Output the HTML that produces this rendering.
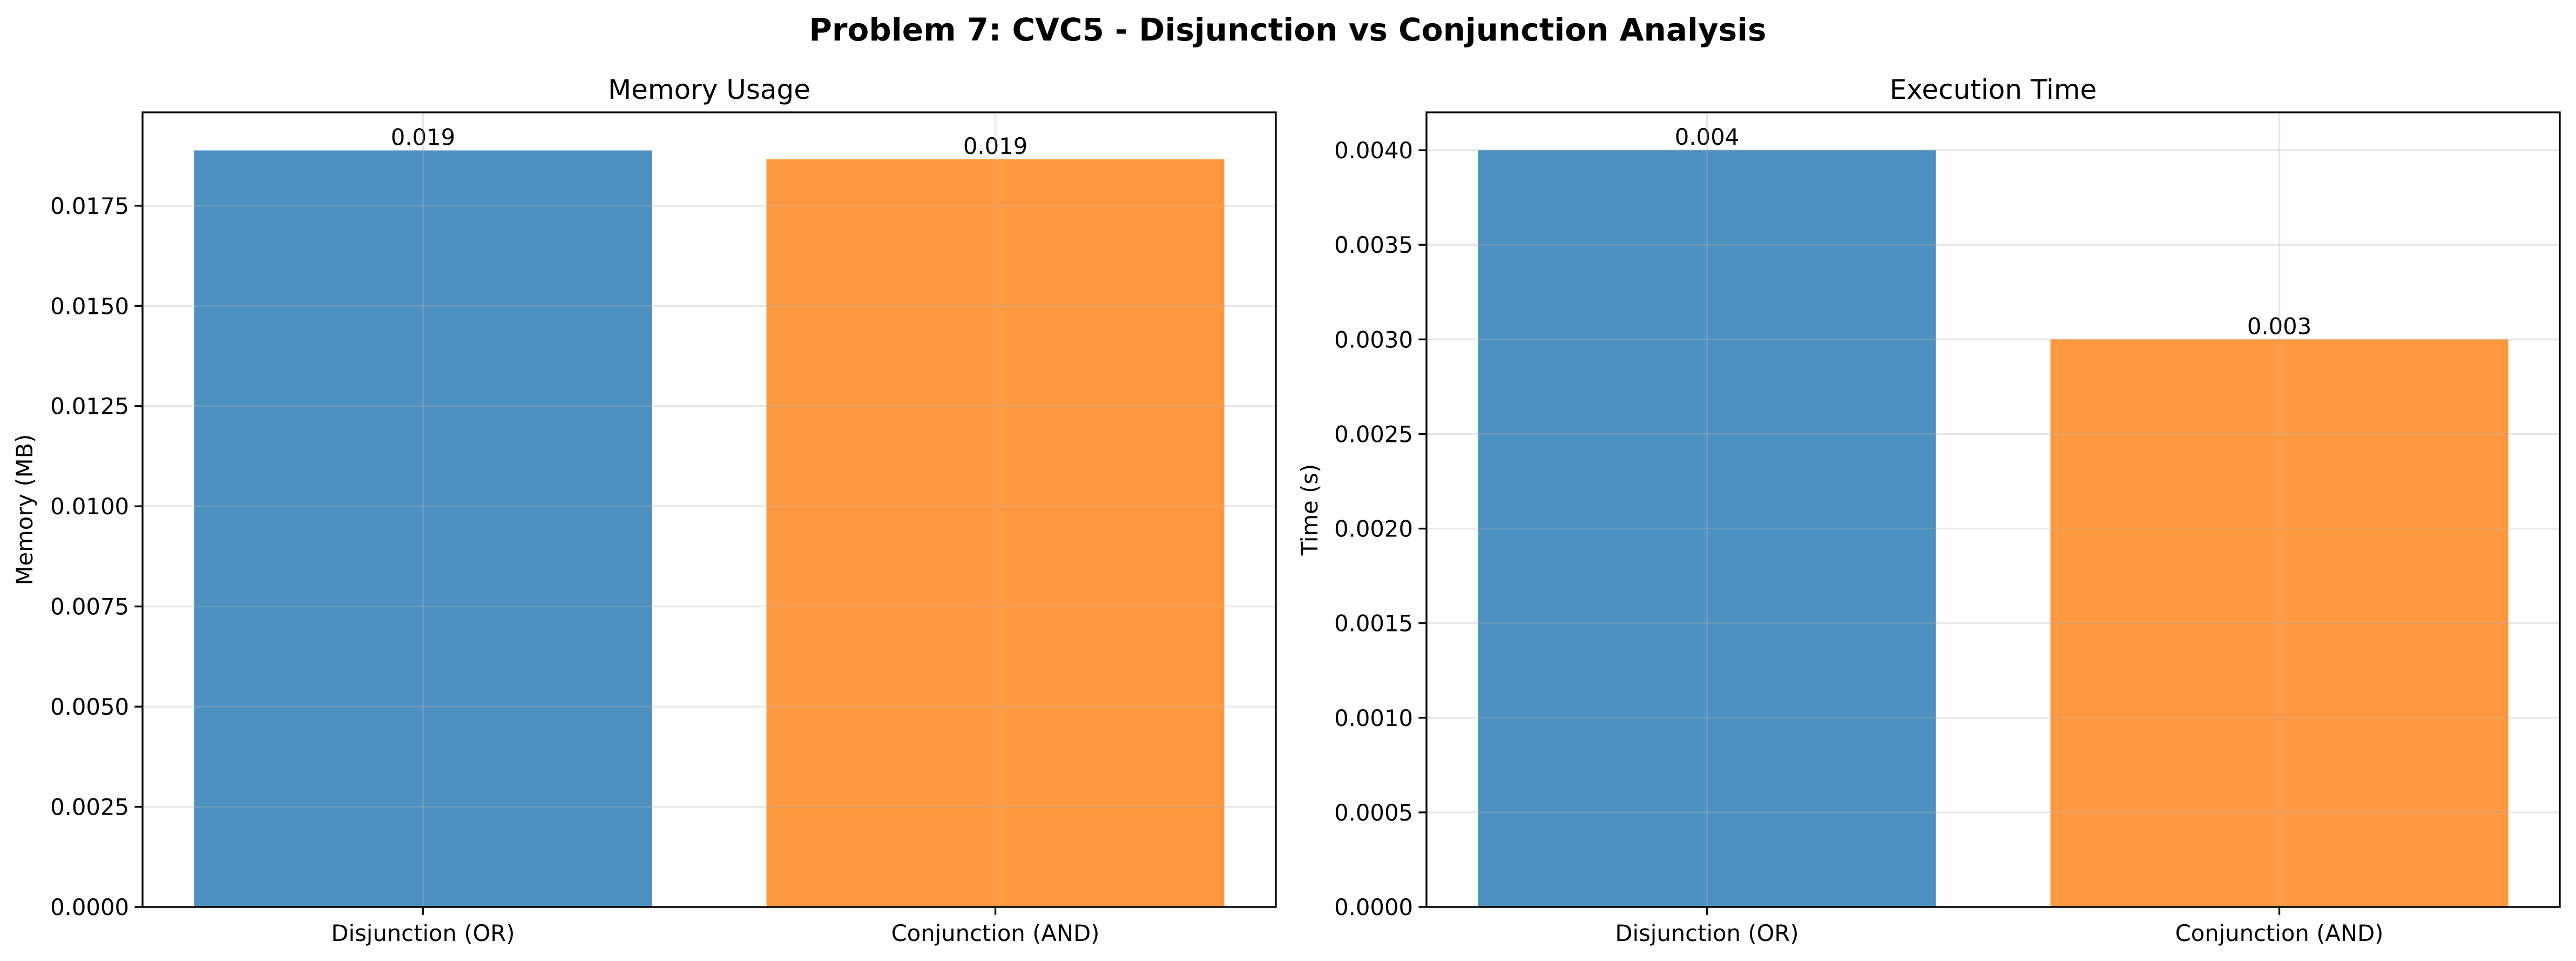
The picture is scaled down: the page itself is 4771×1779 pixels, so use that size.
<!DOCTYPE html>
<html><head><meta charset="utf-8"><style>
html,body{margin:0;padding:0;background:#fff}
svg{display:block;font-family:"DejaVu Sans","Liberation Sans",sans-serif}
</style></head><body>
<svg id="fig" width="4771" height="1779" viewBox="0 0 4771 1779" xmlns="http://www.w3.org/2000/svg">
<rect width="4771" height="1779" fill="#fff"/>
<text x="2385" y="75" text-anchor="middle" font-size="58" font-weight="bold">Problem 7: CVC5 - Disjunction vs Conjunction Analysis</text>
</svg>
<script>
const categories = ["Disjunction (OR)", "Conjunction (AND)"];
const memoryValues = [0.01888, 0.01866];
const memoryLabels = ["0.019", "0.019"];
const memoryTicks = [0, 0.0025, 0.005, 0.0075, 0.01, 0.0125, 0.015, 0.0175];
const memoryTickLabels = ["0.0000","0.0025","0.0050","0.0075","0.0100","0.0125","0.0150","0.0175"];
const timeValues = [0.004, 0.003];
const timeLabels = ["0.004", "0.003"];
const timeTicks = [0,0.0005,0.001,0.0015,0.002,0.0025,0.003,0.0035,0.004];
const timeTickLabels = ["0.0000","0.0005","0.0010","0.0015","0.0020","0.0025","0.0030","0.0035","0.0040"];

const NS = "http://www.w3.org/2000/svg";
const svg = document.getElementById('fig');
function mk(tag, attrs, parent){
  const e = document.createElementNS(NS, tag);
  for (const k in attrs) e.setAttribute(k, attrs[k]);
  (parent||svg).appendChild(e);
  return e;
}
const colors = ["#4c91c2", "#ff983e"];

function panel(p){
  const g = mk('g', {});
  
  
  const xs = v => p.x0 + (v - p.xmin) / (p.xmax - p.xmin) * (p.x1 - p.x0);
  const ys = v => p.y1 - (v - p.ymin) / (p.ymax - p.ymin) * (p.y1 - p.y0);
  categories.forEach((c, i) => {
    const r = mk('rect', {x: xs(i - 0.4), y: ys(p.values[i]), width: xs(i + 0.4) - xs(i - 0.4), height: ys(0) - ys(p.values[i]), fill: colors[i]}, g);
    
    
    const t = mk('text', {x: xs(i), y: ys(p.values[i]) - 10, 'text-anchor': 'middle', 'font-size': 41.7}, g);
    t.textContent = p.labels[i];
    
    
  });
  p.ticks.forEach((v, i) => {
    const l = mk('line', {x1: p.x0, x2: p.x1, y1: ys(v), y2: ys(v), stroke: 'rgba(176,176,176,0.3)', 'stroke-width': 3.3}, g);
    
    
    const tk = mk('line', {x1: p.x0 - 14.6, x2: p.x0, y1: ys(v), y2: ys(v), stroke: '#000', 'stroke-width': 3.3}, g);
    
    
    const t = mk('text', {x: p.x0 - 25, y: ys(v) + 15, 'text-anchor': 'end', 'font-size': 41.7}, g);
    t.textContent = p.tickLabels[i];
    
    
  });
  categories.forEach((c, i) => {
    const l = mk('line', {x1: xs(i), x2: xs(i), y1: p.y0, y2: p.y1, stroke: 'rgba(176,176,176,0.3)', 'stroke-width': 3.3}, g);
    
    
    const tk = mk('line', {x1: xs(i), x2: xs(i), y1: p.y1, y2: p.y1 + 14.6, stroke: '#000', 'stroke-width': 3.3}, g);
    
    
    const t = mk('text', {x: xs(i), y: p.y1 + 63, 'text-anchor': 'middle', 'font-size': 41.7}, g);
    t.textContent = c;
    
    
  });
  const fr = mk('rect', {x: p.x0, y: p.y0, width: p.x1 - p.x0, height: p.y1 - p.y0, fill: 'none', stroke: '#000', 'stroke-width': 3.3}, g);
  
  
  const ti = mk('text', {x: (p.x0 + p.x1) / 2, y: 183, 'text-anchor': 'middle', 'font-size': 50}, g);
  ti.textContent = p.title;
  
  
  const yl = mk('text', {x: 0, y: 0, 'text-anchor': 'middle', 'font-size': 41.7, transform: `translate(${p.ylx},${(p.y0 + p.y1) / 2}) rotate(-90)`}, g);
  yl.textContent = p.ylabel;
  
  
}
panel({name: 'memory-usage-chart', x0: 264, x1: 2363, y0: 208, y1: 1679, xmin: -0.49, xmax: 1.49, ymin: 0, ymax: 0.01983,
  values: memoryValues, labels: memoryLabels, ticks: memoryTicks, tickLabels: memoryTickLabels, title: 'Memory Usage', ylabel: 'Memory (MB)', ylx: 60});
panel({name: 'execution-time-chart', x0: 2642, x1: 4741, y0: 208, y1: 1679, xmin: -0.49, xmax: 1.49, ymin: 0, ymax: 0.0042,
  values: timeValues, labels: timeLabels, ticks: timeTicks, tickLabels: timeTickLabels, title: 'Execution Time', ylabel: 'Time (s)', ylx: 2440});
</script>
</body></html>
